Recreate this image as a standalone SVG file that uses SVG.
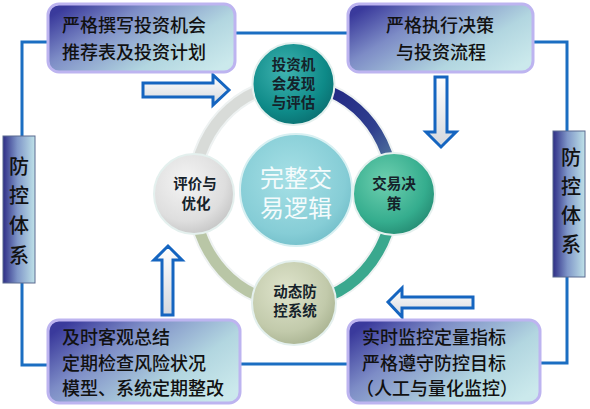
<svg xmlns="http://www.w3.org/2000/svg" width="590" height="409" viewBox="0 0 590 409">
<defs>
<linearGradient id="boxGrad" x1="0" y1="0.2" x2="1" y2="0.8">
<stop offset="0" stop-color="#3a3a9c"/>
<stop offset="0.3" stop-color="#7d8cc6"/>
<stop offset="0.7" stop-color="#b2d6e0"/>
<stop offset="1" stop-color="#cbe9ec"/>
</linearGradient>
<linearGradient id="barGrad" x1="0" y1="0" x2="1" y2="0">
<stop offset="0" stop-color="#2e2e86"/>
<stop offset="0.45" stop-color="#7f96c8"/>
<stop offset="1" stop-color="#bfe2e8"/>
</linearGradient>
<linearGradient id="arrowGrad" x1="0" y1="0" x2="0" y2="1">
<stop offset="0" stop-color="#ffffff"/>
<stop offset="1" stop-color="#d4d8de"/>
</linearGradient>
<linearGradient id="arcTR" x1="0" y1="0" x2="1" y2="1">
<stop offset="0" stop-color="#1c1c7e"/>
<stop offset="0.6" stop-color="#2f3f8e"/>
<stop offset="1" stop-color="#6a9aa8"/>
</linearGradient>
<radialGradient id="gTop" cx="0.4" cy="0.35" r="0.7">
<stop offset="0" stop-color="#3fb3b0"/>
<stop offset="0.7" stop-color="#0e8a88"/>
<stop offset="1" stop-color="#0a6e70"/>
</radialGradient>
<radialGradient id="gRight" cx="0.4" cy="0.35" r="0.7">
<stop offset="0" stop-color="#6fd0b0"/>
<stop offset="0.7" stop-color="#35ad8e"/>
<stop offset="1" stop-color="#248a72"/>
</radialGradient>
<radialGradient id="gLeft" cx="0.4" cy="0.35" r="0.7">
<stop offset="0" stop-color="#f4f4f4"/>
<stop offset="0.7" stop-color="#dedede"/>
<stop offset="1" stop-color="#c4c4c4"/>
</radialGradient>
<radialGradient id="gBottom" cx="0.4" cy="0.35" r="0.7">
<stop offset="0" stop-color="#dfe4cc"/>
<stop offset="0.7" stop-color="#c2caab"/>
<stop offset="1" stop-color="#a8b290"/>
</radialGradient>
<radialGradient id="gCenter" cx="0.45" cy="0.4" r="0.7">
<stop offset="0" stop-color="#a6e0e6"/>
<stop offset="0.7" stop-color="#86cdd6"/>
<stop offset="1" stop-color="#6ab8c4"/>
</radialGradient>
</defs>
<style>
.box{fill:url(#boxGrad);stroke:#bdb4f0;stroke-width:3}
.bar{fill:url(#barGrad);stroke:#5a6a90;stroke-width:1}
.bt{font-family:"Noto Sans CJK SC","Noto Sans",sans-serif;font-size:18px;font-weight:500;fill:#111}
.vt{font-family:"Noto Sans CJK SC","Noto Sans",sans-serif;font-size:20px;font-weight:500;fill:#111;text-anchor:middle}
.nt{font-family:"Noto Sans CJK SC","Noto Sans",sans-serif;font-size:14.5px;font-weight:bold;fill:#15222a;text-anchor:middle}
.ct{font-family:"Noto Sans CJK SC","Noto Sans",sans-serif;font-size:24px;fill:#f4fbfc;text-anchor:middle}
.ln{fill:none;stroke:#1b6ec2;stroke-width:3}
.arw{fill:url(#arrowGrad);stroke:#1565c0;stroke-width:3;stroke-linejoin:miter}
.node{stroke:#e4f0ee;stroke-width:2}
.arc{fill:none;stroke-width:11}
</style>
<rect width="590" height="409" fill="#ffffff"/>

<g id="connectors">
<path class="ln" d="M235,33 H348"/>
<path class="ln" d="M48,42 H22 V136"/>
<path class="ln" d="M533,42 H567 V131"/>
<path class="ln" d="M22,283 V365 H48"/>
<path class="ln" d="M240,364 H348"/>
<path class="ln" d="M540,363 H567 V277"/>
<polygon class="arw" points="143,83 213,83 213,75 229,90 213,105 213,97 143,97"/>
<polygon class="arw" points="435,77 447,77 447,132 456,132 441,147 426,132 435,132"/>
<polygon class="arw" points="162,315 173,315 173,260 182,260 168,246 154,260 162,260"/>
<polygon class="arw" points="473,297 402,297 402,288 388,302 402,317 402,308 473,308"/>
</g>

<g id="ring">
<ellipse cx="293.5" cy="193.5" rx="100" ry="109.5" fill="none" stroke="#eef2f2" stroke-width="15"/>
<path class="arc" stroke="url(#arcTR)" d="M293.5,84 A100,109.5 0 0 1 393.5,193.5"/>
<path class="arc" stroke="#3aa88e" d="M393.5,193.5 A100,109.5 0 0 1 293.5,303"/>
<path class="arc" stroke="#b9c6a6" d="M293.5,303 A100,109.5 0 0 1 193.5,193.5"/>
<path class="arc" stroke="#d8dbd8" d="M193.5,193.5 A100,109.5 0 0 1 293.5,84"/>
</g>

<g id="box-top-left">
<rect class="box" x="48" y="4" width="187" height="68" rx="11"/>
<text class="bt" x="62" y="32">严格撰写投资机会</text>
<text class="bt" x="62" y="59">推荐表及投资计划</text>
</g>

<g id="box-top-right">
<rect class="box" x="348" y="4" width="185" height="68" rx="11"/>
<text class="bt" x="440" y="32" text-anchor="middle">严格执行决策</text>
<text class="bt" x="441" y="59" text-anchor="middle">与投资流程</text>
</g>

<g id="box-bottom-left">
<rect class="box" x="48" y="320" width="192" height="83" rx="11"/>
<text class="bt" x="62" y="344">及时客观总结</text>
<text class="bt" x="62" y="370">定期检查风险状况</text>
<text class="bt" x="62" y="395">模型、系统定期整改</text>
</g>

<g id="box-bottom-right">
<rect class="box" x="348" y="320" width="192" height="83" rx="11"/>
<text class="bt" x="362" y="344">实时监控定量指标</text>
<text class="bt" x="362" y="370">严格遵守防控目标</text>
<text class="bt" x="356" y="395">（人工与量化监控）</text>
</g>

<g id="bar-left">
<rect class="bar" x="3" y="136" width="32" height="147"/>
<text class="vt" x="19" y="174">防</text>
<text class="vt" x="19" y="203">控</text>
<text class="vt" x="19" y="233">体</text>
<text class="vt" x="19" y="263">系</text>
</g>

<g id="bar-right">
<rect class="bar" x="553" y="131" width="32" height="146"/>
<text class="vt" x="571" y="165">防</text>
<text class="vt" x="571" y="194">控</text>
<text class="vt" x="571" y="223">体</text>
<text class="vt" x="571" y="252">系</text>
</g>

<g id="node-center">
<circle cx="296" cy="190" r="56" fill="url(#gCenter)" stroke="#d8f0f2" stroke-width="2"/>
<text class="ct" x="296" y="187">完整交</text>
<text class="ct" x="296" y="217">易逻辑</text>
</g>

<g id="node-top">
<circle class="node" cx="293.5" cy="84" r="41" fill="url(#gTop)"/>
<text class="nt" x="293.5" y="70">投资机</text>
<text class="nt" x="293.5" y="89">会发现</text>
<text class="nt" x="293.5" y="108">与评估</text>
</g>

<g id="node-right">
<circle class="node" cx="394" cy="194" r="41" fill="url(#gRight)"/>
<text class="nt" x="394" y="189">交易决</text>
<text class="nt" x="394" y="209">策</text>
</g>

<g id="node-left">
<circle class="node" cx="194" cy="194" r="40" fill="url(#gLeft)"/>
<text class="nt" x="195" y="189">评价与</text>
<text class="nt" x="196" y="209">优化</text>
</g>

<g id="node-bottom">
<circle class="node" cx="294" cy="303" r="42" fill="url(#gBottom)"/>
<text class="nt" x="295" y="297">动态防</text>
<text class="nt" x="295" y="316">控系统</text>
</g>
</svg>
